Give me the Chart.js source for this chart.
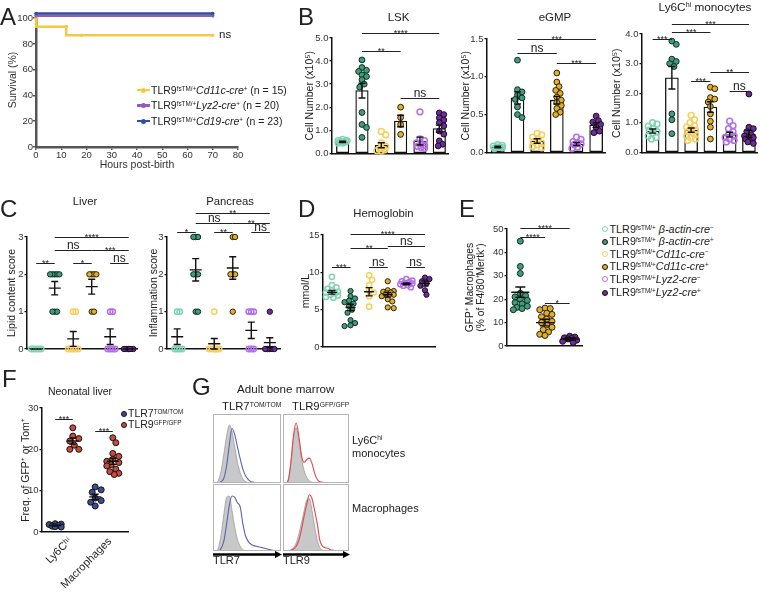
<!DOCTYPE html>
<html><head><meta charset="utf-8">
<script src="https://cdn.jsdelivr.net/npm/chart.js@4.4.0/dist/chart.umd.min.js"></script>
<style>
body{margin:0;width:762px;height:592px;position:relative;background:#fff;font-family:"Liberation Sans",Arial,Helvetica,sans-serif;overflow:hidden}
canvas{position:absolute}
.t{position:absolute;white-space:nowrap;line-height:1;color:#222}
.t sup{font-size:0.6em;position:relative;top:-0.5em;vertical-align:baseline;line-height:0}
.mk{position:absolute;box-sizing:border-box}
</style></head><body>
<script>
// ================= DATA =================
// A: survival
const survX = [0, 12, 18, 70];
const survCd11c = [100, 93.3, 86.7, 86.7];
const survLineX = [0, 70];
const survLyz2 = [101.8, 101.8];
const survCd19 = [103.6, 103.6];
const survN = [15, 20, 23];
const hoursTicks = [0, 10, 20, 30, 40, 50, 60, 70, 80];
const survTicks = [0, 20, 40, 60, 80, 100];

// groups (B, C, D)
const groupX = [0, 1, 2, 3, 4, 5];
const genoLabels = [
  'TLR9<sup>fsTM/+</sup> <i>β-actin-cre</i><sup>−</sup>',
  'TLR9<sup>fsTM/+</sup> <i>β-actin-cre</i><sup>+</sup>',
  'TLR9<sup>fsTM/+</sup><i>Cd11c-cre</i><sup>−</sup>',
  'TLR9<sup>fsTM/+</sup><i>Cd11c-cre</i><sup>+</sup>',
  'TLR9<sup>fsTM/+</sup><i>Lyz2-cre</i><sup>−</sup>',
  'TLR9<sup>fsTM/+</sup><i>Lyz2-cre</i><sup>+</sup>'
];

// B: LSK
const lskPts = [
  [0.6, 0.55, 0.5, 0.5, 0.45, 0.5, 0.55, 0.45],
  [4.05, 3.72, 3.6, 3.55, 3.4, 3.33, 3.19, 3.0, 2.87, 1.77, 1.25, 1.12, 0.69],
  [0.95, 0.8, 0.45, 0.3, 0.2, 0.15, 0.1, 0.12],
  [2.0, 1.55, 1.25, 0.82],
  [1.8, 0.62, 0.55, 0.45, 0.4, 0.35, 0.3, 0.25, 0.22],
  [1.75, 1.68, 1.54, 1.44, 1.33, 1.19, 0.97, 0.83, 0.54, 0.39, 0.32]
];
const lskBar = [0.5, 2.72, 0.35, 1.4, 0.53, 1.07];
const lskSem = [0.03, 0.32, 0.11, 0.25, 0.17, 0.15];
const lskSig = [[1, 5, 5.2, '****'], [1, 3, 4.44, '**'], [3, 5, 2.4, 'ns']];
// B: eGMP
const gmpPts = [
  [0.1, 0.09, 0.08, 0.07, 0.06, 0.05, 0.07],
  [1.22, 0.83, 0.8, 0.76, 0.72, 0.7, 0.6, 0.5, 0.46],
  [0.25, 0.23, 0.2, 0.17, 0.14, 0.1, 0.08, 0.12, 0.06],
  [1.05, 0.93, 0.87, 0.82, 0.78, 0.73, 0.69, 0.66, 0.62, 0.58, 0.53, 0.5],
  [0.2, 0.17, 0.14, 0.12, 0.1, 0.07, 0.05, 0.11],
  [0.48, 0.42, 0.4, 0.37, 0.33, 0.28, 0.26]
];
const gmpBar = [0.07, 0.72, 0.15, 0.69, 0.11, 0.36];
const gmpSem = [0.01, 0.08, 0.03, 0.05, 0.02, 0.03];
const gmpSig = [[1, 5, 1.5, '***'], [1, 3, 1.32, 'ns'], [3, 5, 1.18, '***']];
// B: Ly6Chi monocytes
const monoPts = [
  [1.0, 0.95, 0.88, 0.8, 0.75, 0.7, 0.65, 0.55, 0.5, 0.45],
  [3.76, 3.65, 3.15, 3.07, 3.0, 2.9, 1.3, 1.1, 0.63],
  [1.25, 1.1, 1.0, 0.9, 0.85, 0.8, 0.75, 0.7, 0.65, 0.6, 0.55, 0.5, 0.45, 0.4],
  [2.2, 2.15, 1.85, 1.8, 1.7, 1.55, 1.3, 1.05, 0.85, 0.45],
  [1.05, 0.9, 0.8, 0.7, 0.6, 0.55, 0.5, 0.45, 0.4, 0.35],
  [1.97, 0.85, 0.8, 0.7, 0.6, 0.55, 0.5, 0.45, 0.4, 0.35, 0.3, 0.5]
];
const monoBar = [0.72, 2.52, 0.75, 1.53, 0.6, 0.62];
const monoSem = [0.07, 0.38, 0.07, 0.18, 0.08, 0.12];
const monoSig = [[0, 1, 3.82, '***'], [1, 3, 4.08, '***'], [1, 5, 4.34, '***'], [2, 3, 2.4, '***'], [3, 5, 2.7, '**'], [4, 5, 2.06, 'ns']];
const cellTicks3 = [0, 1, 2, 3, 4, 5];
const cellTicks2 = [0, 0.5, 1.0, 1.5];
const cellTicks1 = [0, 1, 2, 3, 4];

// C: Liver / Pancreas scores
const liverPts = [
  [0, 0, 0, 0, 0],
  [2, 2, 2, 2, 2, 1, 1, 1],
  [1, 1, 0, 0, 0, 0, 0],
  [2, 2, 2, 2, 1, 1],
  [1, 1, 0, 0, 0, 0],
  [0, 0, 0, 0, 0, 0]
];
const liverMean = [0, 1.63, 0.27, 1.67, 0.33, 0];
const liverSem = [0, 0.18, 0.2, 0.2, 0.21, 0];
const liverSig = [[0, 1, 2.3, '**'], [2, 3, 2.3, '*'], [4, 5, 2.3, 'ns'], [1, 3, 2.65, 'ns'], [3, 5, 2.65, '***'], [1, 5, 3.01, '****']];
const pancPts = [
  [1, 1, 0, 0, 0, 0],
  [3, 3, 3, 2, 2, 2, 1, 1],
  [1, 0, 0, 0, 0, 0, 0],
  [3, 3, 2, 2, 2, 1],
  [1, 1, 1, 0, 0, 0],
  [1, 0, 0, 0, 0, 0]
];
const pancMean = [0.33, 2.12, 0.14, 2.17, 0.5, 0.17];
const pancSem = [0.21, 0.3, 0.14, 0.3, 0.22, 0.13];
const pancSig = [[0, 1, 3.13, '*'], [2, 3, 3.13, '**'], [4, 5, 3.13, 'ns'], [1, 3, 3.37, 'ns'], [3, 5, 3.37, '**'], [1, 5, 3.65, '**']];
const scoreTicks = [0, 1, 2, 3];

// D: Hemoglobin
const hbPts = [
  [9.4, 8.3, 8.0, 7.8, 7.6, 7.4, 7.3, 7.2, 7.0, 6.9, 6.7, 6.6],
  [7.5, 6.8, 6.5, 6.2, 6.0, 5.8, 5.5, 5.0, 4.6, 3.6, 3.2, 2.9, 2.8],
  [9.6, 9.0, 8.3, 7.6, 7.3, 6.8, 5.4],
  [8.8, 7.6, 7.5, 7.4, 7.3, 7.2, 7.0, 6.8, 6.4, 6.1, 5.3, 5.2],
  [9.1, 8.9, 8.8, 8.7, 8.6, 8.5, 8.4, 8.3, 8.2, 8.0],
  [9.3, 9.1, 8.8, 8.5, 8.2, 7.6, 7.0]
];
const hbMean = [7.32, 5.3, 7.4, 7.0, 8.45, 8.5];
const hbSem = [0.24, 0.42, 0.55, 0.3, 0.12, 0.35];
const hbSig = [[0, 1, 10.75, '***'], [2, 3, 10.75, 'ns'], [4, 5, 10.75, 'ns'], [1, 3, 13.3, '**'], [3, 5, 13.57, 'ns'], [1, 5, 15.13, '****']];
const hbTicks = [0, 5, 10, 15];

// E: GFP+ macrophages
const eX = [0, 1, 2];
const ePts = [
  [44.8, 34, 31, 22.5, 21.5, 21, 20, 19.5, 18.5, 18, 17, 16.5, 16, 15.5],
  [16.2, 16, 15.5, 14, 13.5, 12.5, 11.5, 10.5, 10, 9, 8, 7, 6, 5, 4.5],
  [4.2, 3.8, 3.5, 3.2, 3, 2.5, 2, 1.5]
];
const eMean = [23, 10, 3];
const eSem = [2.2, 1.4, 0.6];
const eSig = [[0, 2, 50.4, '****'], [0, 1, 46.6, '****'], [1, 2, 18.4, '*']];
const eTicks = [0, 10, 20, 30, 40, 50];

// F: Neonatal liver
const fCats = ['Ly6Cʰⁱ', 'Macrophages'];
const fCatX = [0, 1];
const fSeriesOffset = 0.22;
const fTLR7 = [[2.0, 1.9, 1.8, 1.6, 1.4, 1.3, 1.2], [10.9, 10.2, 9.6, 8.2, 7.6, 7.2, 6.3]];
const fTLR9 = [[25.2, 23.2, 22.6, 22.0, 21.0, 20.0, 20.0], [22.8, 21.6, 19.0, 18.3, 17.6, 17.1, 16.8, 16.3, 16.0, 15.2, 14.6, 14.2, 13.9]];
const fMean7 = [1.55, 8.5], fSem7 = [0.12, 0.65];
const fMean9 = [22.0, 17.1], fSem9 = [0.75, 0.75];
const fTicks = [0, 10, 20, 30];

// G: histograms (normalized)
const histX = [0, 0.04, 0.08, 0.12, 0.16, 0.2, 0.24, 0.28, 0.32, 0.36, 0.4, 0.44, 0.48, 0.52, 0.56, 0.6, 0.64, 0.68, 0.72, 0.76, 0.8, 0.84, 0.88, 0.92, 0.96, 1];
const gTL = [0, 0, 0.04, 0.18, 0.42, 0.68, 0.84, 0.74, 0.52, 0.3, 0.15, 0.06, 0.02, 0, 0, 0, 0, 0, 0, 0, 0, 0, 0, 0, 0, 0];
const bTL = [0, 0, 0, 0.02, 0.07, 0.25, 0.55, 0.79, 0.7, 0.52, 0.35, 0.2, 0.1, 0.05, 0.02, 0.01, 0, 0, 0, 0, 0, 0, 0, 0, 0, 0];
const gTR = [0, 0, 0.05, 0.3, 0.65, 0.8, 0.62, 0.36, 0.18, 0.08, 0.03, 0.01, 0, 0, 0, 0, 0, 0, 0, 0, 0, 0, 0, 0, 0, 0];
const rTR = [0, 0, 0.04, 0.3, 0.7, 0.87, 0.68, 0.4, 0.3, 0.34, 0.36, 0.28, 0.14, 0.05, 0.02, 0.01, 0, 0, 0, 0, 0, 0, 0, 0, 0, 0];
const gBL = [0, 0, 0.05, 0.25, 0.55, 0.8, 0.82, 0.6, 0.35, 0.17, 0.07, 0.02, 0, 0, 0, 0, 0, 0, 0, 0, 0, 0, 0, 0, 0, 0];
const bBL = [0, 0, 0, 0.04, 0.15, 0.4, 0.68, 0.82, 0.8, 0.72, 0.66, 0.4, 0.22, 0.14, 0.1, 0.08, 0.07, 0.06, 0.05, 0.04, 0.03, 0.02, 0.01, 0, 0, 0];
const gBR = [0, 0, 0, 0.02, 0.05, 0.12, 0.25, 0.42, 0.6, 0.76, 0.78, 0.6, 0.36, 0.16, 0.05, 0.01, 0, 0, 0, 0, 0, 0, 0, 0, 0, 0];
const rBR = [0, 0, 0, 0.01, 0.03, 0.07, 0.16, 0.32, 0.52, 0.7, 0.84, 0.78, 0.6, 0.4, 0.15, 0.07, 0.05, 0.04, 0.02, 0.01, 0, 0, 0, 0, 0, 0];

// ================= STYLE / HELPERS =================
const FONT = '"Liberation Sans", Arial, Helvetica, sans-serif';
Chart.defaults.font.family = FONT;
Chart.defaults.font.size = 9.5;
Chart.defaults.color = '#333';

const cYellow = '#f6c945', cPurple = '#8f5fb8', cBlue = '#30509f';
const grpStyles = [
  {fill: 'rgba(255,255,255,0)', stroke: '#80d3b3', bw: 1.5, legendFill: '#fff'},
  {fill: '#3f9c7c', stroke: '#152a20', bw: 1, legendFill: '#3f9c7c'},
  {fill: 'rgba(255,255,255,0)', stroke: '#f5cf5f', bw: 1.5, legendFill: '#fff'},
  {fill: '#e2af2c', stroke: '#2a2208', bw: 1, legendFill: '#e2af2c'},
  {fill: 'rgba(255,255,255,0)', stroke: '#b46fe8', bw: 1.5, legendFill: '#fff'},
  {fill: '#6b2e96', stroke: '#1a0b24', bw: 1, legendFill: '#6b2e96'}
];
const fBlue = {fill: '#3d4d92', stroke: '#111', bw: 1};
const fRed = {fill: '#c94a3f', stroke: '#111', bw: 1};

function txt(x, base, html, size, opt) {
  opt = opt || {};
  const d = document.createElement('div');
  d.className = 't';
  d.innerHTML = html;
  d.style.fontSize = size + 'px';
  d.style.top = (base - 0.85 * size) + 'px';
  d.style.left = x + 'px';
  if (opt.center) d.style.transform = 'translateX(-50%)';
  document.body.appendChild(d);
  return d;
}
function mk(left, top, w, h, css) {
  const d = document.createElement('div');
  d.className = 'mk';
  d.style.left = left + 'px'; d.style.top = top + 'px';
  d.style.width = w + 'px'; d.style.height = h + 'px';
  Object.assign(d.style, css || {});
  document.body.appendChild(d);
  return d;
}
function mkCanvas(box, m) {
  const c = document.createElement('canvas');
  c.width = Math.round(box.R - box.L + m.l + m.r);
  c.height = Math.round(box.B - box.T + m.t + m.b);
  c.style.left = (box.L - m.l) + 'px';
  c.style.top = (box.T - m.t) + 'px';
  document.body.appendChild(c);
  return c;
}
function baseOpts(m) {
  return {responsive: false, maintainAspectRatio: false, animation: false, events: [], devicePixelRatio: 1,
    layout: {padding: {left: 0, top: m.t, right: m.r, bottom: 0}},
    plugins: {legend: {display: false}, tooltip: {enabled: false}}};
}
// deterministic beeswarm placement (pixel space), horizontal spread limited to +-maxOff px
function swarm(vals, cx, pxX, pxY, d, f, maxOff) {
  const placed = [], out = [];
  const order = vals.map((v, i) => i).sort((a, b) => vals[b] - vals[a]);
  const minD = d * f, step = Math.min(minD * 0.5, maxOff / 4);
  order.forEach(i => {
    const yp = vals[i] * pxY;
    let off = null, best = 0, bestScore = -1;
    for (let n = 0; n < 200; n++) {
      const k = Math.ceil(n / 2);
      if (k * step > maxOff + 1e-6) break;
      const cand = n === 0 ? 0 : (n % 2 ? 1 : -1) * k * step;
      let md = Infinity;
      placed.forEach(p => { md = Math.min(md, Math.hypot(p.x - cand, p.y - yp)); });
      if (md >= minD - 1e-6) { off = cand; break; }
      if (md > bestScore + 1e-6) { bestScore = md; best = cand; }
    }
    if (off === null) off = best;
    placed.push({x: off, y: yp});
    out[i] = {x: cx + off / pxX, y: vals[i]};
  });
  return out;
}
function statsPlugin(xs, means, sems, meanHalf, capHalf, lw) {
  return {id: 'stats', afterDatasetsDraw(ch) {
    const X = ch.scales.x, Y = ch.scales.y, c = ch.ctx;
    c.save(); c.strokeStyle = '#111'; c.lineWidth = lw; c.lineCap = 'butt';
    means.forEach((mv, i) => {
      const px = X.getPixelForValue(xs[i]), pm = Y.getPixelForValue(mv);
      const lo = Y.getPixelForValue(Math.max(0, mv - sems[i])), hi = Y.getPixelForValue(mv + sems[i]);
      c.beginPath();
      if (meanHalf) { c.moveTo(px - meanHalf, pm); c.lineTo(px + meanHalf, pm); }
      if (sems[i] > 0) {
        c.moveTo(px, lo); c.lineTo(px, hi);
        c.moveTo(px - capHalf, lo); c.lineTo(px + capHalf, lo);
        c.moveTo(px - capHalf, hi); c.lineTo(px + capHalf, hi);
      }
      c.stroke();
    });
    c.restore();
  }};
}
function sigPlugin(items, xs, star, ns) {
  return {id: 'sig', afterDraw(ch) {
    const X = ch.scales.x, Y = ch.scales.y, c = ch.ctx;
    c.save(); c.strokeStyle = '#222'; c.fillStyle = '#222'; c.lineWidth = 1; c.textAlign = 'center'; c.textBaseline = 'alphabetic';
    items.forEach(([a, b, v, lab]) => {
      const x1 = X.getPixelForValue(xs[a]), x2 = X.getPixelForValue(xs[b]);
      const y = Math.round(Y.getPixelForValue(v)) + 0.5;
      c.beginPath(); c.moveTo(x1, y); c.lineTo(x2, y); c.stroke();
      const isNs = lab === 'ns';
      c.font = (isNs ? ns : star) + 'px ' + FONT;
      c.fillText(lab, (x1 + x2) / 2, isNs ? y - 2 : y + 2.5);
    });
    c.restore();
  }};
}
function yAxis(o, m) {
  return {type: 'linear', position: 'left', min: o.y[0], max: o.y[1],
    afterBuildTicks: s => { s.ticks = o.yTicks.map(v => ({value: v})); },
    ticks: {callback: v => o.yFmt(v), font: {size: 9.5}, color: '#333', padding: 1},
    grid: {display: true, drawOnChartArea: false, drawTicks: true, tickLength: 2.5, color: '#111', lineWidth: 1.3},
    border: {display: true, color: '#111', width: 1.5},
    title: {display: true, text: o.yTitle, font: {size: o.titleSize || 10.5, lineHeight: o.titleLH || 1.2}, color: '#222', padding: {top: o.tpad, bottom: 0}},
    afterFit: s => { s.width = m.l; }};
}
function dotPanel(o) {
  const box = o.box, m = o.m;
  const cv = mkCanvas(box, m);
  const pxX = (box.R - box.L) / (o.x[1] - o.x[0]), pxY = (box.B - box.T) / (o.y[1] - o.y[0]);
  const ds = [];
  if (o.bars) ds.push({type: 'bar', data: o.bars.map((v, i) => ({x: o.xs[i], y: v})), backgroundColor: '#fff', borderColor: '#111',
    borderWidth: 1.3, borderSkipped: false, barThickness: o.barW, grouped: false, order: 10});
  o.pts.forEach((vals, i) => {
    const st = o.styles[i], d = 2 * o.r + st.bw;
    ds.push({type: 'scatter', data: swarm(vals, o.xs[i], pxX, pxY, d, o.f, o.maxOff), pointRadius: o.r, pointHoverRadius: o.r,
      pointBackgroundColor: st.fill, pointBorderColor: st.stroke, pointBorderWidth: st.bw, clip: false, order: 1});
  });
  const xt = o.xTicks;
  const xScale = {type: 'linear', min: o.x[0], max: o.x[1], offset: false,
    ticks: xt ? {display: true, autoSkip: false, minRotation: 45, maxRotation: 45, padding: 3, labelOffset: 6, font: {size: 11}, color: '#222',
      callback: v => xt.labels[xt.values.indexOf(v)]} : {display: false},
    grid: {display: false, drawOnChartArea: false, drawTicks: false},
    border: {display: true, color: '#111', width: 1.5},
    afterFit: s => { s.height = m.b; }};
  if (xt) xScale.afterBuildTicks = s => { s.ticks = xt.values.map(v => ({value: v})); };
  const opts = baseOpts(m);
  opts.scales = {x: xScale, y: yAxis(o, m)};
  new Chart(cv, {type: 'scatter', data: {datasets: ds}, options: opts,
    plugins: [statsPlugin(o.statX || o.xs, o.means, o.sems, o.meanHalf, o.capHalf, 1.4), sigPlugin(o.sig, o.sigX || o.xs, 9, 12)]});
}
const fmt1 = v => v.toFixed(1), fmt0 = v => String(v);

// ================= PANEL A =================
(function () {
  const box = {L: 36, T: 13, R: 238, B: 147}, m = {l: 36, t: 13, r: 12, b: 28};
  const cv = mkCanvas(box, m);
  const line = (xs, ys, col) => ({data: xs.map((x, i) => ({x, y: ys[i]})), borderColor: col, backgroundColor: col,
    borderWidth: 2.5, pointRadius: 1.8, pointBorderWidth: 0, clip: false});
  const opts = baseOpts(m);
  const axisCol = '#555';
  opts.scales = {
    x: {type: 'linear', min: 0, max: 80, afterBuildTicks: s => { s.ticks = hoursTicks.map(v => ({value: v})); },
      ticks: {font: {size: 9.5}, color: '#333', padding: 0, maxRotation: 0},
      grid: {drawOnChartArea: false, drawTicks: true, tickLength: 3, color: axisCol, lineWidth: 1.5},
      border: {color: axisCol, width: 2.5},
      title: {display: true, text: 'Hours post-birth', font: {size: 10.5}, color: '#333', padding: {top: 0, bottom: 4}},
      afterFit: s => { s.height = m.b; }},
    y: {type: 'linear', min: 0, max: 104, afterBuildTicks: s => { s.ticks = survTicks.map(v => ({value: v})); },
      ticks: {font: {size: 9.5}, color: '#333', padding: 0},
      grid: {drawOnChartArea: false, drawTicks: true, tickLength: 3, color: axisCol, lineWidth: 1.5},
      border: {color: axisCol, width: 2.5},
      title: {display: true, text: 'Survival (%)', font: {size: 10.5}, color: '#333', padding: {top: 6.7, bottom: 0}},
      afterFit: s => { s.width = m.l; }}
  };
  const dsY = line(survX, survCd11c, cYellow); dsY.stepped = 'after';
  new Chart(cv, {type: 'line', data: {datasets: [line(survLineX, survCd19, cBlue), line(survLineX, survLyz2, cPurple), dsY]}, options: opts});
  // legend
  const cols = [cYellow, cPurple, cBlue];
  const names = ['<i>Cd11c-cre</i>', '<i>Lyz2-cre</i>', '<i>Cd19-cre</i>'];
  const rows = [90, 105.5, 121];
  rows.forEach((cy, i) => {
    mk(137, cy - 1.25, 13, 2.5, {background: cols[i]});
    mk(141, cy - 2.5, 5, 5, {background: cols[i], borderRadius: '50%'});
    txt(151, cy + 3.8, 'TLR9<sup>fsTM/+</sup>' + names[i] + '<sup>+</sup> (n = ' + survN[i] + ')', 10.5);
  });
  txt(219, 38.5, 'ns', 11.5);
})();

// ================= PANEL B =================
dotPanel({box: {L: 332, T: 38, R: 448, B: 154}, m: {l: 32, t: 20, r: 6, b: 6}, x: [-0.55, 5.45], y: [0, 5], yTicks: cellTicks3, yFmt: fmt1,
  yTitle: 'Cell Number (x10⁵)', tpad: 3.7, xs: groupX, pts: lskPts, styles: grpStyles, bars: lskBar, barW: 12.5, means: lskBar, sems: lskSem,
  meanHalf: 0, capHalf: 3.5, sig: lskSig, r: 2.9, f: 0.7, maxOff: 4.5});
dotPanel({box: {L: 487, T: 39, R: 605, B: 153}, m: {l: 32, t: 20, r: 6, b: 6}, x: [-0.55, 5.45], y: [0, 1.5], yTicks: cellTicks2, yFmt: fmt1,
  yTitle: 'Cell Number (x10⁵)', tpad: 4.7, xs: groupX, pts: gmpPts, styles: grpStyles, bars: gmpBar, barW: 13, means: gmpBar, sems: gmpSem,
  meanHalf: 0, capHalf: 3.5, sig: gmpSig, r: 2.9, f: 0.7, maxOff: 4.5});
dotPanel({box: {L: 642, T: 34, R: 760, B: 153}, m: {l: 34, t: 24, r: 2, b: 6}, x: [-0.55, 5.45], y: [0, 4], yTicks: cellTicks1, yFmt: fmt1,
  yTitle: 'Cell Number (x10⁵)', tpad: 3.2, xs: groupX, pts: monoPts, styles: grpStyles, bars: monoBar, barW: 13, means: monoBar, sems: monoSem,
  meanHalf: 0, capHalf: 3.5, sig: monoSig, r: 2.9, f: 0.7, maxOff: 4.5});

// ================= PANEL C =================
dotPanel({box: {L: 27, T: 237, R: 137, B: 349}, m: {l: 27, t: 20, r: 6, b: 8}, x: [-0.5, 5.45], y: [0, 3], yTicks: scoreTicks, yFmt: fmt0,
  yTitle: 'Lipid content score', tpad: 6.2, xs: groupX, pts: liverPts, styles: grpStyles, means: liverMean, sems: liverSem,
  meanHalf: 6, capHalf: 3.5, sig: liverSig, r: 2.7, f: 0.36, maxOff: 5.5});
dotPanel({box: {L: 167, T: 237, R: 280, B: 349}, m: {l: 27, t: 34, r: 6, b: 8}, x: [-0.55, 5.55], y: [0, 3], yTicks: scoreTicks, yFmt: fmt0,
  yTitle: 'Inflammation score', tpad: 7.7, xs: groupX, pts: pancPts, styles: grpStyles, means: pancMean, sems: pancSem,
  meanHalf: 6, capHalf: 3.5, sig: pancSig, r: 2.7, f: 0.36, maxOff: 5.5});

// ================= PANEL D =================
dotPanel({box: {L: 323, T: 235, R: 435, B: 347}, m: {l: 28, t: 20, r: 8, b: 8}, x: [-0.48, 5.54], y: [0, 15], yTicks: hbTicks, yFmt: fmt0,
  yTitle: 'mmol/L', tpad: 5.2, xs: groupX, pts: hbPts, styles: grpStyles, means: hbMean, sems: hbSem,
  meanHalf: 5, capHalf: 3.5, sig: hbSig, r: 2.6, f: 0.75, maxOff: 6});

// ================= PANEL E =================
dotPanel({box: {L: 507, T: 229, R: 582, B: 346}, m: {l: 52, t: 18, r: 12, b: 8}, x: [-0.54, 2.5], y: [0, 50], yTicks: eTicks, yFmt: fmt0,
  yTitle: ['GFP⁺ Macrophages', '(% of F4/80⁺Mertk⁺)'], titleSize: 10.3, titleLH: 1.1, tpad: 9.3, xs: eX, pts: ePts,
  styles: [grpStyles[1], grpStyles[3], grpStyles[5]], means: eMean, sems: eSem, meanHalf: 9, capHalf: 5, sig: eSig, r: 3, f: 0.75, maxOff: 7});
// legend E
[229.3, 241.7, 254, 266.7, 279.3, 292.7].forEach((cy, i) => {
  const st = grpStyles[i];
  mk(602, cy - 3.2, 6.4, 6.4, {borderRadius: '50%', border: (st.bw > 1.2 ? '1.4px solid ' + st.stroke : '1.2px solid #111'), background: st.legendFill});
  txt(609.5, cy + 3.8, genoLabels[i], 10.8);
});

// ================= PANEL F =================
(function () {
  const xs = [fCatX[0] - fSeriesOffset, fCatX[0] + fSeriesOffset, fCatX[1] - fSeriesOffset, fCatX[1] + fSeriesOffset];
  dotPanel({box: {L: 42, T: 408, R: 128, B: 532}, m: {l: 30, t: 10, r: 10, b: 60}, x: [-0.55, 1.6], y: [0, 30], yTicks: fTicks, yFmt: fmt0,
    yTitle: 'Freq. of GFP⁺ or Tom⁺', tpad: 7.7, xs: xs, pts: [fTLR7[0], fTLR9[0], fTLR7[1], fTLR9[1]], styles: [fBlue, fRed, fBlue, fRed],
    means: [fMean7[0], fMean9[0], fMean7[1], fMean9[1]], sems: [fSem7[0], fSem9[0], fSem7[1], fSem9[1]], meanHalf: 6, capHalf: 3.5,
    sig: [[0, 1, 27.3, '***'], [2, 3, 24.5, '***']], r: 3, f: 0.8, maxOff: 6, xTicks: {values: fCatX, labels: fCats}});
  [[413.5, fBlue, 'TLR7<sup>TOM/TOM</sup>'], [424.5, fRed, 'TLR9<sup>GFP/GFP</sup>']].forEach(([cy, st, lab]) => {
    mk(121, cy - 3, 6, 6, {borderRadius: '50%', border: '1px solid #111', background: st.fill});
    txt(128, cy + 3.7, lab, 10.5);
  });
})();

// ================= PANEL G =================
const framePlugin = {id: 'frame', afterDraw(ch) {
  const a = ch.chartArea, c = ch.ctx; c.save(); c.strokeStyle = '#b5b5b5'; c.lineWidth = 1;
  c.strokeRect(a.left + 0.5, a.top + 0.5, a.right - a.left - 1, a.bottom - a.top - 1); c.restore(); }};
function histPanel(box, gray, line, col) {
  const cv = mkCanvas(box, {l: 0, t: 0, r: 0, b: 0});
  const opts = baseOpts({t: 0, r: 0});
  opts.layout = {padding: 0};
  opts.scales = {x: {type: 'linear', display: false, min: 0, max: 1}, y: {type: 'linear', display: false, min: 0, max: 1}};
  new Chart(cv, {type: 'line', data: {datasets: [
    {data: histX.map((x, i) => ({x, y: line[i]})), borderColor: col, borderWidth: 1.1, pointRadius: 0, cubicInterpolationMode: 'monotone', fill: false, order: 0},
    {data: histX.map((x, i) => ({x, y: gray[i]})), borderColor: '#9c9c9c', backgroundColor: '#c8c8c8', borderWidth: 0.8, pointRadius: 0, cubicInterpolationMode: 'monotone', fill: 'origin', order: 1}
  ]}, options: opts, plugins: [framePlugin]});
}
histPanel({L: 213, T: 414, R: 281, B: 483}, gTL, bTL, '#5b63b0');
histPanel({L: 283, T: 414, R: 349, B: 483}, gTR, rTR, '#e4474d');
histPanel({L: 213, T: 484, R: 281, B: 551}, gBL, bBL, '#5b63b0');
histPanel({L: 283, T: 484, R: 349, B: 551}, gBR, rBR, '#e4474d');
(function () {
  const ns = 'http://www.w3.org/2000/svg';
  const svg = document.createElementNS(ns, 'svg');
  svg.setAttribute('width', 762); svg.setAttribute('height', 592);
  svg.style.position = 'absolute'; svg.style.left = '0'; svg.style.top = '0';
  [[213, 282], [283, 350]].forEach(([a, b]) => {
    const l = document.createElementNS(ns, 'line');
    l.setAttribute('x1', a); l.setAttribute('x2', b - 6); l.setAttribute('y1', 554.5); l.setAttribute('y2', 554.5);
    l.setAttribute('stroke', '#000'); l.setAttribute('stroke-width', 2.5); svg.appendChild(l);
    const p = document.createElementNS(ns, 'polygon');
    p.setAttribute('points', (b) + ',554.5 ' + (b - 7) + ',551 ' + (b - 7) + ',558'); p.setAttribute('fill', '#000'); svg.appendChild(p);
  });
  document.body.appendChild(svg);
})();

// ================= TEXT =================
txt(0, 25, 'A', 24); txt(298, 25, 'B', 24); txt(0, 217, 'C', 24); txt(298, 217, 'D', 24); txt(459, 217, 'E', 24);
txt(2, 387, 'F', 24); txt(192, 395, 'G', 24);
txt(398.5, 22, 'LSK', 11.5, {center: true});
txt(555, 22, 'eGMP', 11.5, {center: true});
txt(705, 12, 'Ly6C<sup>hi</sup> monocytes', 11.8, {center: true});
txt(85, 206, 'Liver', 11.3, {center: true});
txt(230, 206, 'Pancreas', 11.3, {center: true});
txt(383.5, 218, 'Hemoglobin', 11.3, {center: true});
txt(80, 395, 'Neonatal liver', 10.5, {center: true});
txt(237, 393, 'Adult bone marrow', 11.6);
txt(222, 411, 'TLR7<sup>TOM/TOM</sup>', 11.3);
txt(292, 411, 'TLR9<sup>GFP/GFP</sup>', 11.3);
txt(352, 444, 'Ly6C<sup>hi</sup>', 11);
txt(352, 457, 'monocytes', 11);
txt(352, 512, 'Macrophages', 11);
txt(213, 564, 'TLR7', 11);
txt(283, 564, 'TLR9', 11);
</script>
</body></html>
